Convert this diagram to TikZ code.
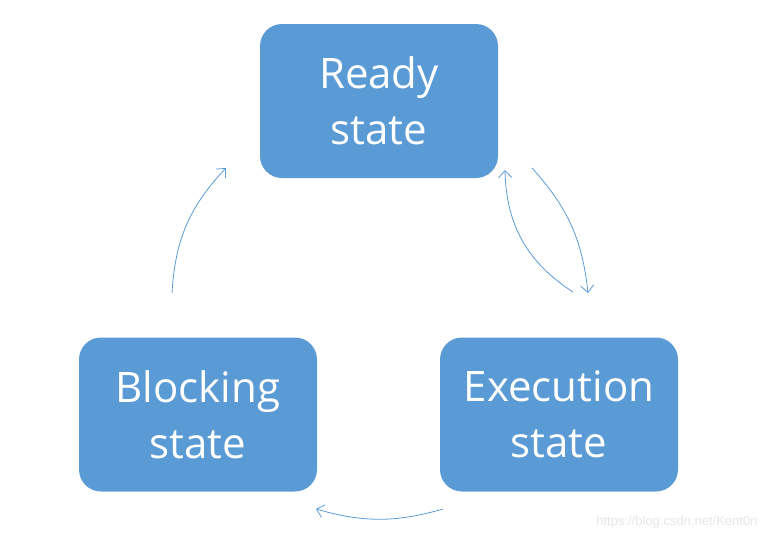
\documentclass[tikz,border=0pt]{standalone}
\usepackage{fontspec}
\setmainfont{Open Sans}
\newfontfamily\wmfont{Liberation Sans}
\usetikzlibrary{arrows.meta,positioning}
\definecolor{stateblue}{HTML}{5B9BD5}
\definecolor{markgray}{HTML}{E6E6E6}

\begin{document}
\begin{tikzpicture}[x=1pt,y=-1pt,
    statebox/.style={draw=none, fill=stateblue, rounded corners=22pt, minimum width=238pt, minimum height=154pt, align=center, text=white, font=\fontsize{42}{56}\selectfont},
    arr/.style={-{Straight Barb[length=7pt,width=13pt]}, draw=stateblue, line width=0.8pt}
]
\useasboundingbox (0,0) rectangle (769,541);
\node[statebox] (ready) at (379,101) {Ready\\state};
\node[statebox] (block) at (198,414.5) {Blocking\\state};
\node[statebox] (exec) at (559,414.5) {Execution\\state};

% arrow ends
\coordinate (r1) at (532,168);
\coordinate (r2) at (588,293);
\coordinate (e1) at (573,292);
\coordinate (e2) at (505,170);
\coordinate (e3) at (443,509);
\coordinate (b1) at (316,509);
\coordinate (b2) at (172,293);
\coordinate (r3) at (226,168);

\draw[arr] (r1) to[bend left=18] (r2);
\draw[arr] (e1) to[bend left=28] (e2);
\draw[arr] (e3) to[bend left=16] (b1);
\draw[arr] (b2) to[bend left=20] (r3);

\node[text=markgray, font=\wmfont\fontsize{13}{15}\selectfont, anchor=east] (mark) at (761,522) {https://blog.csdn.net/Kent0n};
\end{tikzpicture}
\end{document}
